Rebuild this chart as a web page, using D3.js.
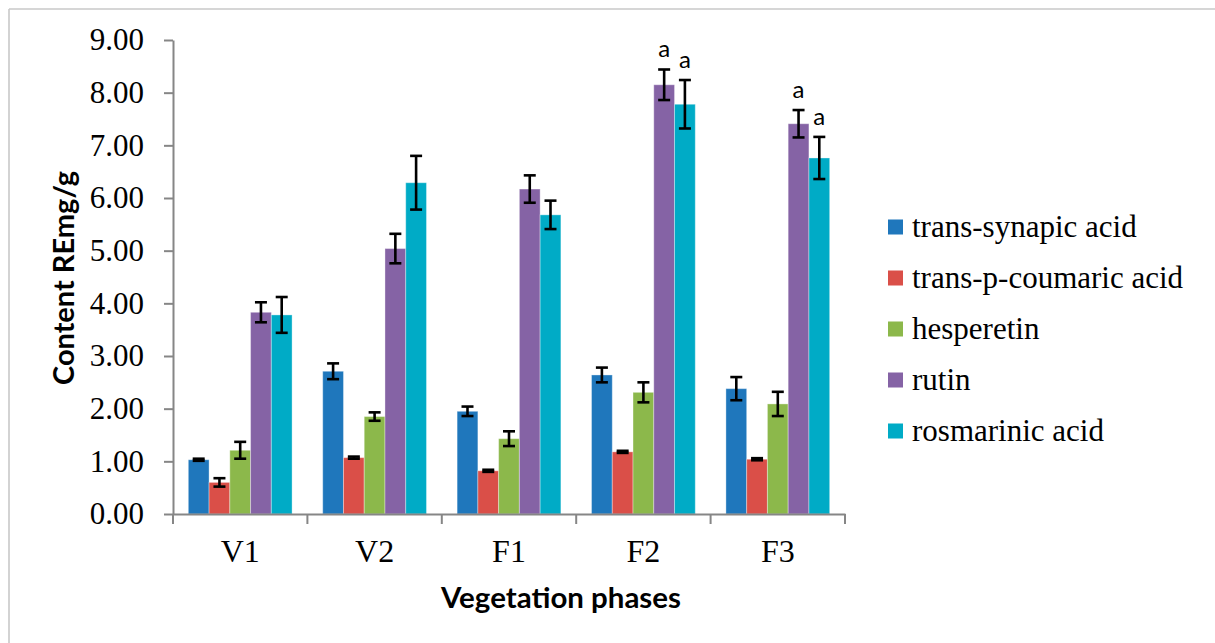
<!DOCTYPE html>
<html>
<head>
<meta charset="utf-8">
<script src="https://cdn.jsdelivr.net/npm/d3@7"></script>
<style>
  html, body { margin: 0; padding: 0; background: #fff; }
  svg { display: block; }
</style>
</head>
<body>
<svg id="chart" width="1215" height="643"></svg>
<script>
// ---- data ----
const categories = ["V1", "V2", "F1", "F2", "F3"];
const seriesNames = ["trans-synapic acid", "trans-p-coumaric acid", "hesperetin", "rutin", "rosmarinic acid"];
const seriesColors = ["#1f77bc", "#da4f48", "#8cb84b", "#8563a5", "#00abc6"];

const synapic     = [1.03, 2.71, 1.95, 2.64, 2.38];
const synapicErr  = [0.02, 0.15, 0.09, 0.14, 0.22];
const coumaric    = [0.60, 1.07, 0.82, 1.18, 1.04];
const coumaricErr = [0.08, 0.02, 0.02, 0.02, 0.02];
const hesperetin    = [1.21, 1.85, 1.43, 2.31, 2.09];
const hesperetinErr = [0.16, 0.08, 0.14, 0.19, 0.23];
const rutin       = [3.83, 5.04, 6.17, 8.15, 7.41];
const rutinErr    = [0.19, 0.28, 0.26, 0.29, 0.26];
const rosmarinic    = [3.78, 6.29, 5.68, 7.78, 6.76];
const rosmarinicErr = [0.34, 0.51, 0.27, 0.46, 0.40];

const rutinLabels      = ["", "", "", "a", "a"];
const rosmarinicLabels = ["", "", "", "a", "a"];
const noLabels = ["", "", "", "", ""];

const yTicks = [0, 1, 2, 3, 4, 5, 6, 7, 8, 9];

const seriesValues = [synapic, coumaric, hesperetin, rutin, rosmarinic];
const seriesErrors = [synapicErr, coumaricErr, hesperetinErr, rutinErr, rosmarinicErr];
const seriesLabels = [noLabels, noLabels, noLabels, rutinLabels, rosmarinicLabels];

// ---- layout ----
const svg = d3.select("#chart");
const plotLeft = 173, plotRight = 845, plotTop = 40, plotBottom = 514;

// frame (top and left edges of the chart box)
svg.append("line").attr("x1", 9).attr("y1", 9).attr("x2", 1215).attr("y2", 9)
  .attr("stroke", "#c8c8c8").attr("stroke-width", 1.6);
svg.append("line").attr("x1", 9).attr("y1", 9).attr("x2", 9).attr("y2", 643)
  .attr("stroke", "#c8c8c8").attr("stroke-width", 1.6);

const x0 = d3.scaleBand().domain(categories).range([plotLeft, plotRight]).padding(0);
const bw = x0.bandwidth();
const x1 = d3.scaleBand().domain(seriesNames).range([bw * 0.114, bw * 0.886]).padding(0);
const y = d3.scaleLinear().domain([0, 9]).range([plotBottom, plotTop]);

const rows = [];
categories.forEach((c, ci) => {
  seriesNames.forEach((s, si) => {
    rows.push({ cat: c, ser: s, si, v: seriesValues[si][ci], e: seriesErrors[si][ci], lab: seriesLabels[si][ci] });
  });
});

// bars
const g = svg.append("g");
g.selectAll("rect.bar").data(rows).join("rect")
  .attr("class", "bar")
  .attr("x", d => x0(d.cat) + x1(d.ser))
  .attr("y", d => y(d.v))
  .attr("width", x1.bandwidth())
  .attr("height", d => y(0) - y(d.v))
  .attr("fill", d => seriesColors[d.si])
  .attr("stroke", "rgba(255,255,255,0.35)")
  .attr("stroke-width", 1);

// error bars
const eg = svg.append("g").attr("stroke", "#000").attr("stroke-width", 2.6).attr("fill", "none");
const cap = 6;
rows.forEach(d => {
  const cx = x0(d.cat) + x1(d.ser) + x1.bandwidth() / 2;
  const yt = y(d.v + d.e), yb = y(d.v - d.e);
  eg.append("line").attr("x1", cx).attr("x2", cx).attr("y1", yt).attr("y2", yb);
  eg.append("line").attr("x1", cx - cap).attr("x2", cx + cap).attr("y1", yt).attr("y2", yt);
  eg.append("line").attr("x1", cx - cap).attr("x2", cx + cap).attr("y1", yb).attr("y2", yb);
});

// significance letters
svg.append("g").selectAll("text").data(rows.filter(d => d.lab)).join("text")
  .attr("x", d => x0(d.cat) + x1(d.ser) + x1.bandwidth() / 2)
  .attr("y", d => y(d.v + d.e) - 12)
  .attr("text-anchor", "middle")
  .attr("font-family", "Lato, 'Open Sans', sans-serif")
  .attr("font-size", 24)
  .attr("fill", "#000")
  .text(d => d.lab);

// y axis
const yAxis = svg.append("g").attr("transform", `translate(${plotLeft},0)`)
  .call(d3.axisLeft(y).tickValues(yTicks).tickFormat(d3.format(".2f")).tickSize(9).tickSizeOuter(0).tickPadding(20));
yAxis.select(".domain").attr("stroke", "#868686").attr("stroke-width", 2);
yAxis.selectAll(".tick line").attr("stroke", "#868686").attr("stroke-width", 2);
yAxis.selectAll(".tick text")
  .attr("font-family", "'Liberation Serif', 'Times New Roman', serif")
  .attr("font-size", 31).attr("fill", "#000");

// x axis
const xAxis = svg.append("g").attr("transform", `translate(0,${plotBottom})`)
  .call(d3.axisBottom(x0).tickSize(0).tickSizeOuter(0));
xAxis.select(".domain").attr("stroke", "#868686").attr("stroke-width", 2);
xAxis.selectAll(".tick text")
  .attr("font-family", "'Liberation Serif', 'Times New Roman', serif")
  .attr("font-size", 32).attr("fill", "#000")
  .attr("y", 48).attr("dy", 0);
const boundaries = categories.map(c => x0(c)).concat([x0.range()[1]]);
xAxis.selectAll("line.bound").data(boundaries).join("line")
  .attr("class", "bound")
  .attr("x1", d => d).attr("x2", d => d).attr("y1", 0).attr("y2", 10)
  .attr("stroke", "#868686").attr("stroke-width", 2);

// axis titles
svg.append("text")
  .attr("x", 561).attr("y", 608)
  .attr("text-anchor", "middle")
  .attr("font-family", "Lato, 'Open Sans', sans-serif")
  .attr("font-weight", "bold").attr("font-size", 29)
  .attr("textLength", 240).attr("lengthAdjust", "spacingAndGlyphs")
  .text("Vegetation phases");

svg.append("text")
  .attr("transform", "translate(74,278) rotate(-90)")
  .attr("text-anchor", "middle")
  .attr("font-family", "Lato, 'Open Sans', sans-serif")
  .attr("font-weight", "bold").attr("font-size", 29)
  .attr("textLength", 214).attr("lengthAdjust", "spacingAndGlyphs")
  .text("Content REmg/g");

// legend
const legendY = [227, 278, 329, 380, 431];
const lg = svg.append("g");
seriesNames.forEach((s, i) => {
  lg.append("rect").attr("x", 888).attr("y", legendY[i] - 7.5).attr("width", 15).attr("height", 15)
    .attr("fill", seriesColors[i]);
  lg.append("text").attr("x", 912).attr("y", legendY[i] + 10)
    .attr("font-family", "'Liberation Serif', 'Times New Roman', serif")
    .attr("font-size", 31).attr("fill", "#000")
    .text(s);
});
</script>
</body>
</html>
